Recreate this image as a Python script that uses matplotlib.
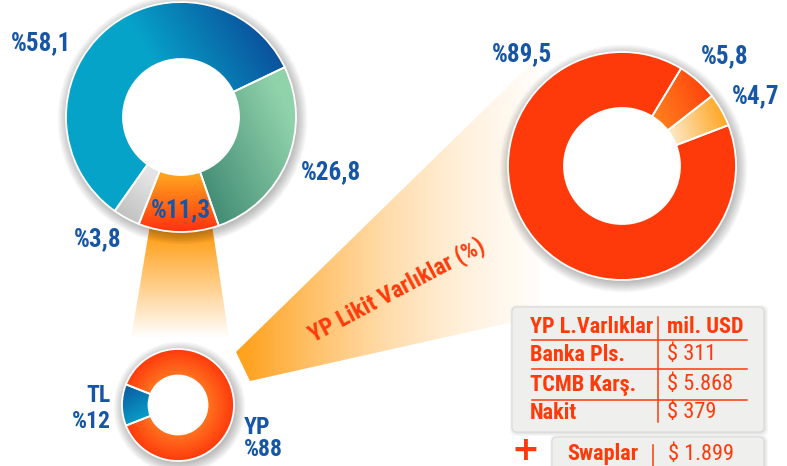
import numpy as np
import matplotlib
matplotlib.use("Agg")
import matplotlib.pyplot as plt
from matplotlib import font_manager
from matplotlib.patches import Polygon, FancyBboxPatch, Circle
from matplotlib.colors import to_rgb

W, H = 787, 466

# data
genel_pay = [58.1, 26.8, 11.3, 3.8]
yp_pay = [89.5, 5.8, 4.7]
tl_yp_adlar = ["TL", "YP"]
tl_yp_pay = [12, 88]
baslik = "YP Likit Varlıklar (%)"
tablo_baslik = ["YP L.Varlıklar", "mil. USD"]
kalemler = ["Banka Pls.", "TCMB Karş.", "Nakit"]
tutarlar = ["$ 311", "$ 5.868", "$ 379"]
swap_adi = "Swaplar"
swap_tutar = "$ 1.899"

# narrow font if available, otherwise Liberation Sans
names = {f.name for f in font_manager.fontManager.ttflist}
fam = "Liberation Sans"
for cand in ["Roboto Condensed", "Liberation Sans Narrow"]:
    if cand in names:
        fam = cand
        break
plt.rcParams["font.family"] = [fam, "DejaVu Sans"]

BLUE = "#1656a5"
RED = "#ff3a0a"


def yuzde(v, dec=1):
    return "%" + f"{v:.{dec}f}".replace(".", ",")


def Y(y):
    # screen y (top=0) to data y
    return H - y


def linear_fill(ax, patch, ext, c1, c2, p1, p2, z, a1=1.0, a2=1.0):
    x0, x1, y0, y1 = ext
    gx, gy = np.meshgrid(np.linspace(x0, x1, 200), np.linspace(y0, y1, 200))
    d = np.array(p2, float) - np.array(p1, float)
    t = ((gx - p1[0]) * d[0] + (gy - p1[1]) * d[1]) / (d @ d)
    t = np.clip(t, 0, 1)[..., None]
    c1 = np.array(to_rgb(c1) + (a1,))
    c2 = np.array(to_rgb(c2) + (a2,))
    im = ax.imshow(c1 + t * (c2 - c1), extent=ext, origin="lower", zorder=z,
                   interpolation="bilinear")
    im.set_clip_path(patch)
    return im


def radial_fill(ax, patch, center, r0, r1, c1, c2, z):
    cx, cy = center
    ext = (cx - r1, cx + r1, cy - r1, cy + r1)
    gx, gy = np.meshgrid(np.linspace(ext[0], ext[1], 200), np.linspace(ext[2], ext[3], 200))
    t = np.clip((np.hypot(gx - cx, gy - cy) - r0) / (r1 - r0), 0, 1)[..., None]
    a = np.array(to_rgb(c1))
    b = np.array(to_rgb(c2))
    im = ax.imshow(a + t * (b - a), extent=ext, origin="lower", zorder=z, interpolation="bilinear")
    im.set_clip_path(patch)


def shadow(ax, center, r, z=1):
    for k in range(10):
        ax.add_patch(Circle((center[0] + 1.5, center[1] - 2.5), r + 1.1 * k,
                            color="k", alpha=0.028, lw=0, zorder=z))


def donut(ax, vals, center, r, r_in, start, ccw):
    shadow(ax, center, r)
    ax.add_patch(Circle(center, r_in, color="white", zorder=1.5))
    wedges, _ = ax.pie(vals, radius=r, center=center, startangle=start, counterclock=ccw,
                       wedgeprops=dict(width=r - r_in, edgecolor="white", linewidth=1.3))
    for w in wedges:
        w.set_facecolor("none")
        w.set_zorder(4)
    return wedges


fig = plt.figure(figsize=(W / 100, H / 100), dpi=100)
ax = fig.add_axes([0, 0, 1, 1])

# funnels
f1 = Polygon([(150, Y(225)), (212, Y(225)), (230, Y(345)), (130, Y(345))], closed=True, lw=0, fc="none")
ax.add_patch(f1)
linear_fill(ax, f1, (130, 230, Y(345), Y(225)), "#ffa21e", "#ffa21e",
            (0, Y(238)), (0, Y(338)), 0.5, a1=1.0, a2=0.0)

f2 = Polygon([(236, Y(352)), (540, Y(55)), (540, Y(316)), (250, Y(381))], closed=True, lw=0, fc="none")
ax.add_patch(f2)
linear_fill(ax, f2, (236, 540, Y(381), Y(55)), "#ffa21e", "#ffe2b8",
            (245, 0), (560, 0), 0.5, a1=1.0, a2=0.0)

ax.text(397, Y(290), baslik, rotation=28, color=RED, fontsize=17, fontweight="bold",
        ha="center", va="center", zorder=6)

# top-left donut
c, r, ri = (181, Y(117)), 115, 58
w = donut(ax, genel_pay, c, r, ri, 234.8, False)
cx, cy = c
ext = (cx - r, cx + r, cy - r, cy + r)
linear_fill(ax, w[0], ext, "#06a3c9", "#0b4a98",
            (cx + 0.05 * r, cy), (cx + 0.95 * r, cy + 0.55 * r), 3)
linear_fill(ax, w[1], ext, "#458e77", "#90d2aa",
            (cx + 0.15 * r, cy - 0.5 * r), (cx + r, cy - 0.1 * r), 3)
linear_fill(ax, w[2], ext, "#ffa41e", "#ff3210", (cx, cy - ri), (cx, cy - r), 3)
linear_fill(ax, w[3], ext, "#e4e4e4", "#bdbdbd",
            (cx - 0.3 * r, cy - 0.5 * r), (cx - 0.6 * r, cy - 0.85 * r), 3)

# right donut
c, r, ri = (622, Y(166)), 114, 58
w = donut(ax, yp_pay, c, r, ri, 21, False)
cx, cy = c
ext = (cx - r, cx + r, cy - r, cy + r)
w[0].set_facecolor(RED)
linear_fill(ax, w[1], ext, "#ff7c1c", "#ff3e0c",
            (cx + 0.3 * r, cy + 0.5 * r), (cx + 0.8 * r, cy + 0.7 * r), 3)
linear_fill(ax, w[2], ext, "#fde9c6", "#ffa41e",
            (cx + 0.45 * r, cy + 0.2 * r), (cx + 0.95 * r, cy + 0.35 * r), 3)

# small donut
c, r, ri = (178, Y(405)), 56, 29.5
w = donut(ax, tl_yp_pay, c, r, ri, 158.4, True)
cx, cy = c
linear_fill(ax, w[0], (cx - r, cx + r, cy - r, cy + r), "#0b56a0", "#08a4ca",
            (cx - r, cy + 0.35 * r), (cx - 0.6 * r, cy - 0.3 * r), 3)
radial_fill(ax, w[1], c, ri, r, "#ff7420", "#ff3a0c", 3)

# percent labels
lab = dict(color=BLUE, fontsize=18, fontweight="bold", va="center", zorder=7)
ax.text(41, Y(43), yuzde(genel_pay[0]), ha="center", **lab)
ax.text(331, Y(172), yuzde(genel_pay[1]), ha="center", **lab)
ax.text(181, Y(210), yuzde(genel_pay[2]), ha="center", **lab)
ax.text(98, Y(239), yuzde(genel_pay[3]), ha="center", **lab)
ax.text(522, Y(54), yuzde(yp_pay[0]), ha="center", **lab)
ax.text(725, Y(56), yuzde(yp_pay[1]), ha="center", **lab)
ax.text(756, Y(96), yuzde(yp_pay[2]), ha="center", **lab)

lab["fontsize"] = 17
ax.text(111, Y(396), tl_yp_adlar[0], ha="right", **lab)
ax.text(111, Y(421), yuzde(tl_yp_pay[0], 0), ha="right", **lab)
ax.text(244, Y(428), tl_yp_adlar[1], ha="left", **lab)
ax.text(244, Y(450), yuzde(tl_yp_pay[1], 0), ha="left", **lab)


# table boxes
def box(x0, y0, x1, y1):
    for k in range(4):
        ax.add_patch(FancyBboxPatch((x0 - k + 1, Y(y1) - k - 1), x1 - x0 + 2 * k, y1 - y0 + 2 * k,
                                    boxstyle="round,pad=0,rounding_size=6", fc="k", alpha=0.03,
                                    lw=0, zorder=5))
    ax.add_patch(FancyBboxPatch((x0, Y(y1)), x1 - x0, y1 - y0,
                                boxstyle="round,pad=0,rounding_size=5", fc="#efefed",
                                ec="#dadada", lw=0.8, zorder=5.5))


box(512, 307, 764, 432)
box(552, 437, 764, 490)

tb = dict(color=RED, fontsize=16, va="center", zorder=7)
ax.text(530, Y(327), tablo_baslik[0], ha="left", fontweight="bold", **tb)
ax.text(667, Y(327), tablo_baslik[1], ha="left", fontweight="bold", **tb)
row_y = [355, 385, 413]
for name, val, yy in zip(kalemler, tutarlar, row_y):
    ax.text(530, Y(yy), name, ha="left", fontweight="bold", **tb)
    ax.text(667, Y(yy), val, ha="left", **tb)
for yy in [340, 369, 400]:
    ax.plot([532, 747], [Y(yy), Y(yy)], color=RED, lw=1.1, zorder=6.5)
ax.plot([658, 658], [Y(317), Y(422)], color=RED, lw=1.1, zorder=6.5)

ax.text(567, Y(454), swap_adi, ha="left", fontweight="bold", **tb)
ax.text(668, Y(454), swap_tutar, ha="left", **tb)
ax.plot([653, 653], [Y(445), Y(468)], color=RED, lw=1.1, zorder=6.5)
ax.text(525, Y(451), "+", ha="center", va="center", color=RED, fontsize=24,
        fontweight="bold", family="DejaVu Sans", zorder=7)

ax.set_xlim(0, W)
ax.set_ylim(0, H)
ax.set_aspect("auto")
ax.axis("off")
fig.savefig("out.png", dpi=100)
